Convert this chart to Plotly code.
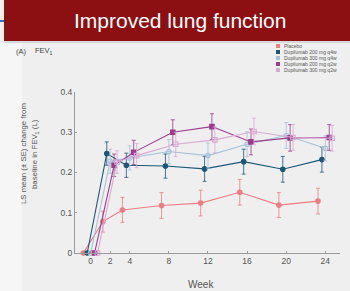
import plotly.graph_objects as go

# ---------------- data ----------------
weeks = [0, 2, 4, 8, 12, 16, 20, 24]
series_names = ["Placebo", "Dupilumab 200 mg q4w", "Dupilumab 300 mg q4w",
                "Dupilumab 200 mg q2w", "Dupilumab 300 mg q2w"]
placebo = [0, 0.078, 0.107, 0.118, 0.124, 0.151, 0.119, 0.129]
placebo_se = [0, 0.026, 0.031, 0.032, 0.032, 0.032, 0.031, 0.032]
dup200_q4w = [0, 0.247, 0.218, 0.216, 0.209, 0.227, 0.208, 0.232]
dup200_q4w_se = [0, 0.029, 0.030, 0.030, 0.031, 0.031, 0.032, 0.031]
dup300_q4w = [0, 0.228, 0.236, 0.252, 0.242, 0.270, 0.292, 0.260]
dup300_q4w_se = [0, 0.030, 0.030, 0.030, 0.031, 0.031, 0.032, 0.031]
dup200_q2w = [0, 0.218, 0.250, 0.300, 0.314, 0.276, 0.286, 0.287]
dup200_q2w_se = [0, 0.028, 0.030, 0.031, 0.032, 0.032, 0.033, 0.032]
dup300_q2w = [0, 0.226, 0.242, 0.270, 0.281, 0.302, 0.287, 0.285]
dup300_q2w_se = [0, 0.028, 0.030, 0.030, 0.032, 0.033, 0.032, 0.032]
y_ticks = [0, 0.1, 0.2, 0.3, 0.4]
y_tick_labels = ["0", "0.1", "0.2", "0.3", "0.4"]
x_ticks = [0, 2, 4, 8, 12, 16, 20, 24]

values = [placebo, dup200_q4w, dup300_q4w, dup200_q2w, dup300_q2w]
errors = [placebo_se, dup200_q4w_se, dup300_q4w_se, dup200_q2w_se, dup300_q2w_se]

# ---------------- styles ----------------
colors = ["#ee7c82", "#1b5876", "#a4c2da", "#9a3b8c", "#d9a9d4"]
symbols = ["circle", "circle", "circle-open", "square", "square-open"]
x_offsets = [-0.75, -0.35, 0.0, 0.4, 0.7]

W, H = 350, 291
L, R, T, B = 75, 10, 92, 38
PW, PH = W - L - R, H - T - B


def px(x):
    return (x - L) / PW


def py(y):
    return (H - B - y) / PH


fig = go.Figure()

for name, vals, errs, col, sym, off in zip(series_names, values, errors, colors, symbols, x_offsets):
    fig.add_trace(go.Scatter(
        x=[w + off for w in weeks], y=vals, name=name,
        mode="lines+markers",
        line=dict(color=col, width=1.1),
        marker=dict(color=col, symbol=sym, size=4.5, line=dict(color=col, width=1.1)),
        error_y=dict(type="data", array=errs, visible=True, color=col, thickness=0.8, width=2),
        cliponaxis=False, showlegend=False,
    ))

shapes = [
    # lighter left strip
    dict(type="rect", xref="paper", yref="paper", x0=px(0), x1=px(22), y0=py(291), y1=py(42),
         fillcolor="#f6f6f6", line=dict(width=0), layer="below"),
    # banner shadow
    dict(type="rect", xref="paper", yref="paper", x0=px(4), x1=px(350), y0=py(43), y1=py(40),
         fillcolor="#d8d8d8", line=dict(width=0), layer="below"),
    # banner
    dict(type="rect", xref="paper", yref="paper", x0=px(4), x1=px(350), y0=py(41), y1=py(0),
         fillcolor="#8c0f12", line=dict(width=0), layer="below"),
    # small blue arrow
    dict(type="line", xref="paper", yref="paper", x0=px(0), x1=px(4), y0=py(21), y1=py(21),
         line=dict(color="#2a6fc0", width=2)),
]

FONT = "Liberation Sans, Arial"
annotations = [
    dict(text="Improved lung function", x=px(180), y=py(21), xref="paper", yref="paper",
         showarrow=False, xanchor="center", yanchor="middle",
         font=dict(family=FONT, size=21, color="white")),
    dict(text="(A)", x=px(14), y=py(51), xref="paper", yref="paper", showarrow=False,
         xanchor="left", yanchor="middle", font=dict(family=FONT, size=7.5, color="#444")),
    dict(text="FEV<sub>1</sub>", x=px(33), y=py(51), xref="paper", yref="paper", showarrow=False,
         xanchor="left", yanchor="middle", font=dict(family=FONT, size=7.5, color="#444")),
    dict(text="LS mean (± SE) change from", x=px(23), y=py(154), xref="paper", yref="paper",
         showarrow=False, textangle=-90, xanchor="center", yanchor="middle",
         font=dict(family=FONT, size=7.8, color="#555")),
    dict(text="baseline in FEV<sub>1</sub> (L)", x=px(35), y=py(154), xref="paper", yref="paper",
         showarrow=False, textangle=-90, xanchor="center", yanchor="middle",
         font=dict(family=FONT, size=7.8, color="#555")),
    dict(text="Week", x=px(201), y=py(284), xref="paper", yref="paper", showarrow=False,
         xanchor="center", yanchor="middle", font=dict(family=FONT, size=10, color="#555")),
]

# legend built from series names and colours
leg_rows = [46, 52, 58, 64, 70]
for name, col, ly in zip(series_names, colors, leg_rows):
    shapes.append(dict(type="rect", xref="paper", yref="paper", x0=px(276), x1=px(280),
                       y0=py(ly + 2), y1=py(ly - 2), fillcolor=col, line=dict(width=0)))
    annotations.append(dict(text=name, x=px(282), y=py(ly), xref="paper", yref="paper",
                            showarrow=False, xanchor="left", yanchor="middle",
                            font=dict(family=FONT, size=5, color="#555")))

fig.update_layout(
    width=W, height=H,
    margin=dict(l=L, r=R, t=T, b=B),
    paper_bgcolor="#efefef", plot_bgcolor="#efefef",
    font=dict(family=FONT, color="#444"),
    shapes=shapes, annotations=annotations,
    xaxis=dict(range=[-1.6, 25.5], tickvals=x_ticks, ticktext=[str(t) for t in x_ticks],
               showgrid=False, zeroline=False, showline=True, linecolor="#9a9a9a", linewidth=1,
               ticks="inside", ticklen=2, tickcolor="#9a9a9a", tickfont=dict(size=8.5, color="#555")),
    yaxis=dict(range=[0, 0.4], tickvals=y_ticks, ticktext=y_tick_labels,
               showgrid=False, zeroline=False, showline=True, linecolor="#9a9a9a", linewidth=1,
               ticks="inside", ticklen=2, tickcolor="#9a9a9a", tickfont=dict(size=8.5, color="#555")),
    showlegend=False,
)

fig.write_html("out.html", config={"displayModeBar": False},
               post_script="document.body.style.margin='0px';document.body.style.overflow='hidden';")
